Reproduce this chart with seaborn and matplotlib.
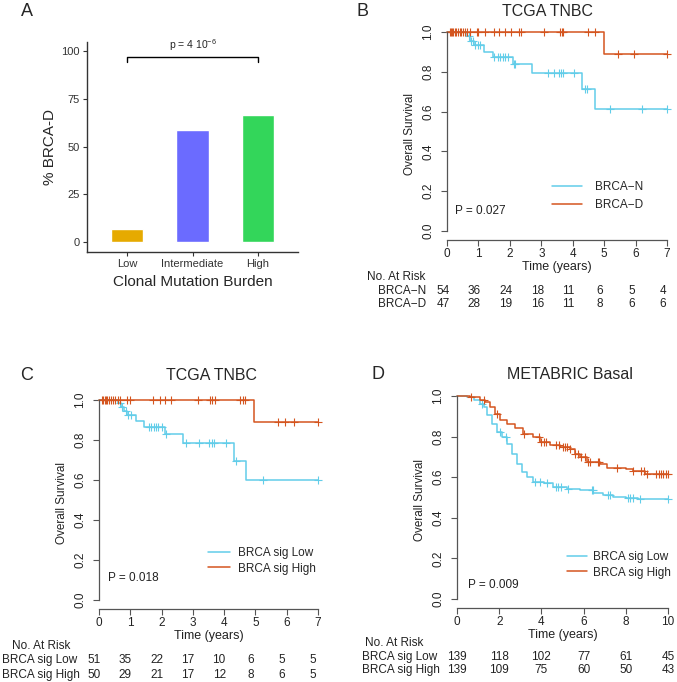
import numpy as np
import seaborn as sns
import matplotlib.pyplot as plt
import matplotlib.transforms as mtransforms

# ---- data ----
# A: % BRCA-D by clonal mutation burden
burden_levels = ['Low', 'Intermediate', 'High']
pct_brca_d = [7.0, 58.5, 66.5]
bar_colors = ['#E6AA00', '#6B6BFF', '#33D65A']
p_label_a = r'p = 4 10$^{-6}$'

# B: TCGA TNBC, BRCA-N vs BRCA-D
b_n_time = [0, 0.65, 0.73, 0.87, 1.18, 1.45, 2.09, 2.69, 4.31, 4.71, 7.0]
b_n_surv = [1.0, 0.98, 0.955, 0.935, 0.90, 0.873, 0.838, 0.795, 0.712, 0.612, 0.612]
b_n_cens = [0.7, 0.76, 0.82, 0.9, 0.98, 1.05, 1.5, 1.62, 1.7, 1.78, 1.86, 1.94, 2.12, 2.15,
            3.2, 3.4, 3.55, 3.62, 3.68, 4.05, 4.38, 4.45, 5.2, 6.2, 7.0]
b_d_time = [0, 4.98, 7.0]
b_d_surv = [1.0, 0.888, 0.888]
b_d_cens = [0.08, 0.12, 0.16, 0.2, 0.25, 0.3, 0.35, 0.4, 0.45, 0.5, 0.58, 0.65, 0.72, 0.95, 1.0,
            1.2, 1.5, 1.65, 1.85, 2.05, 2.3, 2.35, 3.1, 3.6, 3.65, 3.7, 4.5, 4.71, 5.44, 5.94, 7.0]
b_risk_n = [54, 36, 24, 18, 11, 6, 5, 4]
b_risk_d = [47, 28, 19, 16, 11, 8, 6, 6]

# C: TCGA TNBC, BRCA sig Low vs High
c_low_time = [0, 0.61, 0.71, 0.80, 0.88, 1.17, 1.43, 2.10, 2.68, 4.33, 4.71, 7.0]
c_low_surv = [1.0, 0.983, 0.965, 0.945, 0.925, 0.897, 0.867, 0.828, 0.787, 0.697, 0.598, 0.598]
c_low_cens = [0.66, 0.75, 0.85, 0.93, 1.03, 1.6, 1.67, 1.75, 1.83, 1.9, 2.02, 2.15, 2.79,
              3.2, 3.5, 3.6, 3.68, 4.06, 4.37, 5.24, 7.0]
c_high_time = [0, 4.97, 7.0]
c_high_surv = [1.0, 0.888, 0.888]
c_high_cens = [0.08, 0.13, 0.18, 0.22, 0.27, 0.32, 0.38, 0.45, 0.5, 0.6, 0.68, 0.9, 0.98,
               1.72, 1.94, 2.12, 2.31, 3.16, 3.54, 3.62, 3.7, 4.5, 4.6, 4.68, 5.72, 5.96, 6.22, 7.0]
c_risk_low = [51, 35, 22, 17, 10, 6, 5, 5]
c_risk_high = [50, 29, 21, 17, 12, 8, 6, 5]

# D: METABRIC Basal, BRCA sig Low vs High
d_low_time = [0, 0.47, 0.79, 1.10, 1.26, 1.42, 1.65, 1.89, 2.13, 2.36, 2.60, 2.83, 3.07, 3.31,
              3.62, 4.10, 4.57, 5.20, 5.83, 6.46, 6.93, 7.40, 8.03, 8.60, 10.0]
d_low_surv = [1.0, 0.995, 0.98, 0.962, 0.946, 0.905, 0.864, 0.823, 0.80, 0.766, 0.716, 0.667,
              0.626, 0.60, 0.577, 0.569, 0.552, 0.544, 0.536, 0.523, 0.511, 0.503, 0.50, 0.495, 0.495]
d_low_cens = [1.17, 2.04, 2.32, 3.7, 3.95, 4.25, 4.7, 4.8, 4.95, 5.28, 6.38, 6.45, 7.17, 7.25,
              8.12, 8.2, 8.35, 8.67, 10.0]
d_high_time = [0, 0.63, 1.10, 1.34, 1.57, 1.80, 2.05, 2.36, 2.76, 3.15, 3.62, 3.94, 4.40, 4.90,
               5.35, 5.60, 5.83, 6.14, 6.77, 7.10, 8.00, 8.35, 8.90, 10.0]
d_high_surv = [1.0, 0.993, 0.98, 0.97, 0.946, 0.913, 0.88, 0.864, 0.84, 0.815, 0.80, 0.774, 0.757,
               0.75, 0.74, 0.716, 0.70, 0.675, 0.667, 0.643, 0.638, 0.631, 0.615, 0.615]
d_high_cens = [0.65, 1.28, 1.88, 3.17, 3.9, 4.0, 4.1, 4.2, 4.7, 4.85, 5.0, 5.1, 5.2, 5.35,
               5.6, 5.75, 5.9, 6.05, 6.2, 6.3, 6.7, 6.75, 7.57, 8.35, 8.7, 8.85, 9.0,
               9.45, 9.55, 9.65, 9.75, 9.9, 10.0]
d_risk_times = [0, 2, 4, 6, 8, 10]
d_risk_low = [139, 118, 102, 77, 61, 45]
d_risk_high = [139, 109, 75, 60, 50, 43]

CYAN = '#62CDE9'
ORANGE = '#D4551F'

sns.set_style('ticks')
plt.rcParams['font.family'] = ['Liberation Sans', 'DejaVu Sans']
plt.rcParams['mathtext.default'] = 'regular'

W, H = 677, 682
fig = plt.figure(figsize=(W / 100, H / 100), dpi=100)


def px_axes(left, top, right, bottom):
    return fig.add_axes([left / W, 1 - bottom / H, (right - left) / W, (bottom - top) / H])


def ftext(x, y, s, **kw):
    fig.text(x / W, 1 - y / H, s, **kw)


# ---------------- A ----------------
axA = px_axes(87, 42, 298, 252)
sns.barplot(x=burden_levels, y=pct_brca_d, hue=burden_levels, palette=bar_colors,
            width=0.5, saturation=1, legend=False, ax=axA)
axA.set_xlim(-0.61, 2.61)
axA.set_ylim(-5.2, 104.7)
axA.set_yticks([0, 25, 50, 75, 100])
for side in ['top', 'right']:
    axA.spines[side].set_visible(False)
for side in ['left', 'bottom']:
    axA.spines[side].set_color('#333333')
    axA.spines[side].set_linewidth(1.0)
axA.tick_params(length=3, width=0.8, color='#333333', labelsize=8, labelcolor='#333333', pad=2)
axA.set_xlabel('Clonal Mutation Burden', fontsize=11)
axA.set_ylabel('% BRCA-D', fontsize=11)
axA.xaxis.label.set_va('center')
axA.yaxis.label.set_va('center')
axA.xaxis.set_label_coords(0.5, -30 / 210)
axA.yaxis.set_label_coords(-37 / 211, 0.5)
bracket_y, bracket_drop = 97, 3
axA.plot([0, 0, 2, 2], [bracket_y - bracket_drop, bracket_y, bracket_y, bracket_y - bracket_drop],
         color='black', lw=1.0)
axA.text(1, bracket_y + 2, p_label_a, ha='center', va='bottom', fontsize=7.5)
ftext(27, 11, 'A', fontsize=13, va='center', ha='center')


# ---------------- KM helpers ----------------
def km_axes(left, right, y_one, y_zero, axis_y, xmax, xticks):
    ax = px_axes(left, y_one - 4, right, axis_y)
    unit = y_zero - y_one
    ax.set_xlim(0, xmax)
    ax.set_ylim(-(axis_y - y_zero) / unit, 1 + 4 / unit)
    for side in ['top', 'right']:
        ax.spines[side].set_visible(False)
    ax.spines['left'].set_bounds(0, 1)
    ax.spines['bottom'].set_bounds(0, xmax)
    for side in ['left', 'bottom']:
        ax.spines[side].set_color('#555555')
        ax.spines[side].set_linewidth(0.9)
    ax.set_xticks(xticks)
    ax.set_yticks([0, 0.2, 0.4, 0.6, 0.8, 1.0])
    ax.set_yticklabels(['0.0', '0.2', '0.4', '0.6', '0.8', '1.0'], rotation=90, va='center')
    ax.tick_params(axis='both', length=4, width=0.8, color='#555555', labelsize=8.5,
                   labelcolor='#222222')
    ax.tick_params(axis='y', pad=5)
    ax.tick_params(axis='x', pad=2)
    ax.set_xlabel('Time (years)', fontsize=9, color='#222222')
    ax.set_ylabel('Overall Survival', fontsize=8.5, color='#222222')
    ax.xaxis.label.set_va('center')
    ax.yaxis.label.set_va('center')
    ax.xaxis.set_label_coords(0.5, -27 / (axis_y - y_one + 4))
    ax.yaxis.set_label_coords(-37 / (right - left), 0.5)
    return ax


def km_curve(ax, times, surv, cens, color, label):
    sns.lineplot(x=times, y=surv, drawstyle='steps-post', color=color, lw=1.1,
                 label=label, ax=ax, clip_on=False)
    idx = np.searchsorted(times, cens, side='right') - 1
    cy = np.asarray(surv)[idx]
    ax.plot(cens, cy, ls='none', marker='+', ms=6, mew=0.8, color=color, clip_on=False)


def km_legend(ax, x, top, handlelength, textpad, spacing):
    ax.legend(loc='upper left', bbox_to_anchor=(x / W, 1 - top / H), bbox_transform=fig.transFigure,
              frameon=False, fontsize=8.5, handlelength=handlelength, handletextpad=textpad,
              labelspacing=spacing, borderpad=0, borderaxespad=0)


def risk_table(ax, times, rows, labels, head_xy, label_x, row_ys, dx):
    ftext(head_xy[0], head_xy[1], 'No. At Risk', fontsize=8.5, va='center', color='#222222')
    trans = mtransforms.blended_transform_factory(ax.transData, fig.transFigure)
    trans = mtransforms.offset_copy(trans, fig=fig, x=dx, y=0, units='dots')
    for counts, lab, ry in zip(rows, labels, row_ys):
        ftext(label_x, ry, lab, fontsize=8.5, va='center', color='#222222')
        for t, n in zip(times, counts):
            ax.text(t, 1 - ry / H, str(n), transform=trans, ha='center', va='center',
                    fontsize=8.5, color='#222222')


# ---------------- B ----------------
axB = km_axes(447, 667, 32, 231, 240, 7, range(0, 8))
km_curve(axB, b_n_time, b_n_surv, b_n_cens, CYAN, 'BRCA\u2212N')
km_curve(axB, b_d_time, b_d_surv, b_d_cens, ORANGE, 'BRCA\u2212D')
km_legend(axB, 552, 181, 2.5, 1.1, 0.55)
ftext(455, 211, 'P = 0.027', fontsize=8.5, va='center', color='#222222')
ftext(548, 11, 'TCGA TNBC', fontsize=11.5, ha='center', va='center')
ftext(362, 11, 'B', fontsize=13, va='center', ha='center')
risk_table(axB, range(0, 8), [b_risk_n, b_risk_d], ['BRCA\u2212N', 'BRCA\u2212D'],
           (367, 277), 378, [291, 304], -4)

# ---------------- C ----------------
axC = km_axes(99, 318, 400, 600, 609, 7, range(0, 8))
km_curve(axC, c_low_time, c_low_surv, c_low_cens, CYAN, 'BRCA sig Low')
km_curve(axC, c_high_time, c_high_surv, c_high_cens, ORANGE, 'BRCA sig High')
km_legend(axC, 208, 547, 1.9, 0.6, 0.3)
ftext(108, 578, 'P = 0.018', fontsize=8.5, va='center', color='#222222')
ftext(212, 376, 'TCGA TNBC', fontsize=11.5, ha='center', va='center')
ftext(27, 376, 'C', fontsize=13, va='center', ha='center')
risk_table(axC, range(0, 8), [c_risk_low, c_risk_high], ['BRCA sig Low', 'BRCA sig High'],
           (12, 646), 2, [660, 675], -5)

# ---------------- D ----------------
axD = km_axes(457, 668, 396, 599, 608, 10, range(0, 11, 2))
km_curve(axD, d_low_time, d_low_surv, d_low_cens, CYAN, 'BRCA sig Low')
km_curve(axD, d_high_time, d_high_surv, d_high_cens, ORANGE, 'BRCA sig High')
km_legend(axD, 567, 551, 1.7, 0.5, 0.3)
ftext(468, 585, 'P = 0.009', fontsize=8.5, va='center', color='#222222')
ftext(570, 375, 'METABRIC Basal', fontsize=11.5, ha='center', va='center')
ftext(378, 375, 'D', fontsize=13, va='center', ha='center')
risk_table(axD, d_risk_times, [d_risk_low, d_risk_high], ['BRCA sig Low', 'BRCA sig High'],
           (365, 643), 362, [657, 670], 0)

fig.savefig('out.png', dpi=100)
